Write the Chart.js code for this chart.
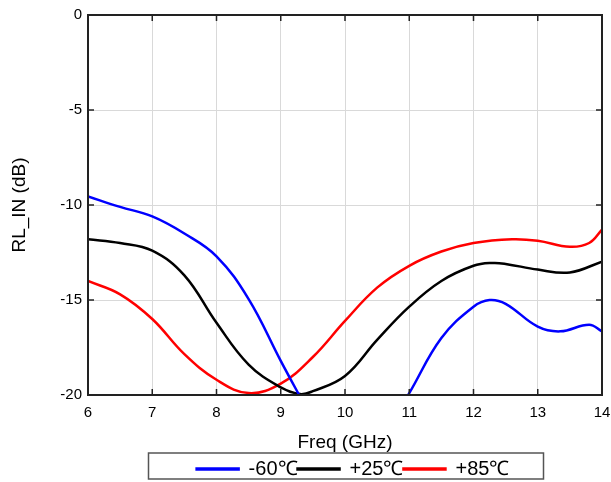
<!DOCTYPE html>
<html>
<head>
<meta charset="utf-8">
<script src="https://cdn.jsdelivr.net/npm/chart.js@4"></script>
<style>
  html, body { margin: 0; padding: 0; background: #fff; }
  #wrap { width: 611px; height: 482px; }
</style>
</head>
<body>
<div id="wrap"><canvas id="chart" width="611" height="482"></canvas></div>
<script>
// series values (Freq in GHz, RL_IN in dB)
const seriesLabels = ['-60\u2103', '+25\u2103', '+85\u2103'];
const seriesColors = ['#0000ff', '#000000', '#ff0000'];

const freqM60 = [6, 6.5, 7, 7.5, 8, 8.5, 9, 9.35, 10, 10.9, 11, 11.5, 12, 12.25, 12.5, 13, 13.35, 13.8, 14];
const rlM60 = [-9.55, -10.1, -10.6, -11.5, -12.7, -14.95, -18.2, -20.4, null, -20.4, -19.9, -17.0, -15.35, -15.0, -15.2, -16.4, -16.65, -16.3, -16.65];

const freqP25 = [6, 6.5, 7, 7.5, 8, 8.5, 9, 9.3, 9.5, 10, 10.5, 11, 11.5, 12, 12.3, 12.5, 13, 13.5, 14];
const rlP25 = [-11.8, -12.0, -12.4, -13.7, -16.2, -18.4, -19.6, -19.95, -19.8, -19.0, -17.1, -15.35, -14.0, -13.2, -13.05, -13.1, -13.4, -13.55, -12.98];

const freqP85 = [6, 6.5, 7, 7.5, 8, 8.5, 9, 9.5, 10, 10.5, 11, 11.5, 12, 12.6, 13, 13.5, 13.8, 14];
const rlP85 = [-14.0, -14.7, -16.0, -17.85, -19.2, -19.9, -19.4, -18.0, -16.1, -14.35, -13.2, -12.45, -12.0, -11.8, -11.88, -12.2, -12.0, -11.3];

const xTicks = [6, 7, 8, 9, 10, 11, 12, 13, 14];
const yTicks = [0, -5, -10, -15, -20];

function toPoints(xs, ys) {
    return xs.map((x, i) => ({ x: x, y: ys[i] }));
}

const FONT = "'Liberation Sans', Arial, sans-serif";

// frame + inward ticks around the plot, and a box around the legend
const framePlugin = {
    id: 'frame',
    afterLayout(chart) {
        // the reference legend sits right of centre and a bit lower
        const lg = chart.legend;
        lg.left += 52;
        lg.right += 52;
        lg.top += 7;
        lg.bottom += 7;
    },
    afterDatasetsDraw(chart) {
        const { ctx, chartArea: a, scales } = chart;
        ctx.save();
        ctx.strokeStyle = '#222';
        ctx.lineWidth = 1.5;
        ctx.beginPath();
        xTicks.forEach(v => {
            const px = scales.x.getPixelForValue(v);
            ctx.moveTo(px, a.bottom); ctx.lineTo(px, a.bottom - 6);
            ctx.moveTo(px, a.top); ctx.lineTo(px, a.top + 6);
        });
        yTicks.forEach(v => {
            const py = scales.y.getPixelForValue(v);
            ctx.moveTo(a.left, py); ctx.lineTo(a.left + 6, py);
            ctx.moveTo(a.right, py); ctx.lineTo(a.right - 6, py);
        });
        ctx.stroke();
        ctx.lineWidth = 2;
        ctx.strokeRect(a.left, a.top, a.right - a.left, a.bottom - a.top);
        ctx.restore();
    },
    afterDraw(chart) {
        const lg = chart.legend;
        const cx = (lg.left + lg.right) / 2;
        const ctx = chart.ctx;
        ctx.save();
        ctx.strokeStyle = '#555';
        ctx.lineWidth = 1.5;
        ctx.strokeRect(cx - 204.5, lg.top - 6, 395, 26);
        ctx.restore();
    }
};

const datasets = [
    toPoints(freqM60, rlM60),
    toPoints(freqP25, rlP25),
    toPoints(freqP85, rlP85)
].map((pts, i) => ({
    label: seriesLabels[i],
    data: pts,
    borderColor: seriesColors[i],
    backgroundColor: seriesColors[i],
    borderWidth: 2.5,
    pointRadius: 0,
    tension: 0.4,
    spanGaps: false
}));

new Chart(document.getElementById('chart'), {
    type: 'line',
    data: { datasets: datasets },
    plugins: [framePlugin],
    options: {
        responsive: false,
        animation: false,
        devicePixelRatio: 1,
        layout: { padding: { top: 15, right: 9, left: 0, bottom: 0 } },
        plugins: {
            tooltip: { enabled: false },
            legend: {
                position: 'bottom',
                labels: {
                    font: { family: FONT, size: 20 },
                    color: '#000',
                    boxWidth: 42,
                    boxHeight: 1,
                    padding: 0
                }
            }
        },
        scales: {
            x: {
                type: 'linear',
                min: 6, max: 14,
                afterBuildTicks: s => { s.ticks = xTicks.map(v => ({ value: v })); },
                afterFit: s => { s.height = 57; s.paddingRight = 0; s.paddingLeft = 0; },
                grid: { color: '#d9d9d9', lineWidth: 1, drawTicks: false },
                border: { display: false },
                ticks: { font: { family: FONT, size: 15 }, color: '#000', padding: 9, maxRotation: 0 },
                title: { display: true, text: 'Freq (GHz)', font: { family: FONT, size: 19 }, color: '#000', padding: { top: 6, bottom: -2 } }
            },
            y: {
                min: -20, max: 0,
                afterBuildTicks: s => { s.ticks = yTicks.map(v => ({ value: v })); },
                afterFit: s => { s.width = 88; },
                grid: { color: '#d9d9d9', lineWidth: 1, drawTicks: false },
                border: { display: false },
                ticks: { font: { family: FONT, size: 15 }, color: '#000', padding: 6 },
                title: { display: true, text: 'RL_IN (dB)', font: { family: FONT, size: 19 }, color: '#000', padding: { top: 8, bottom: 0 } }
            }
        }
    }
});
</script>
</body>
</html>
